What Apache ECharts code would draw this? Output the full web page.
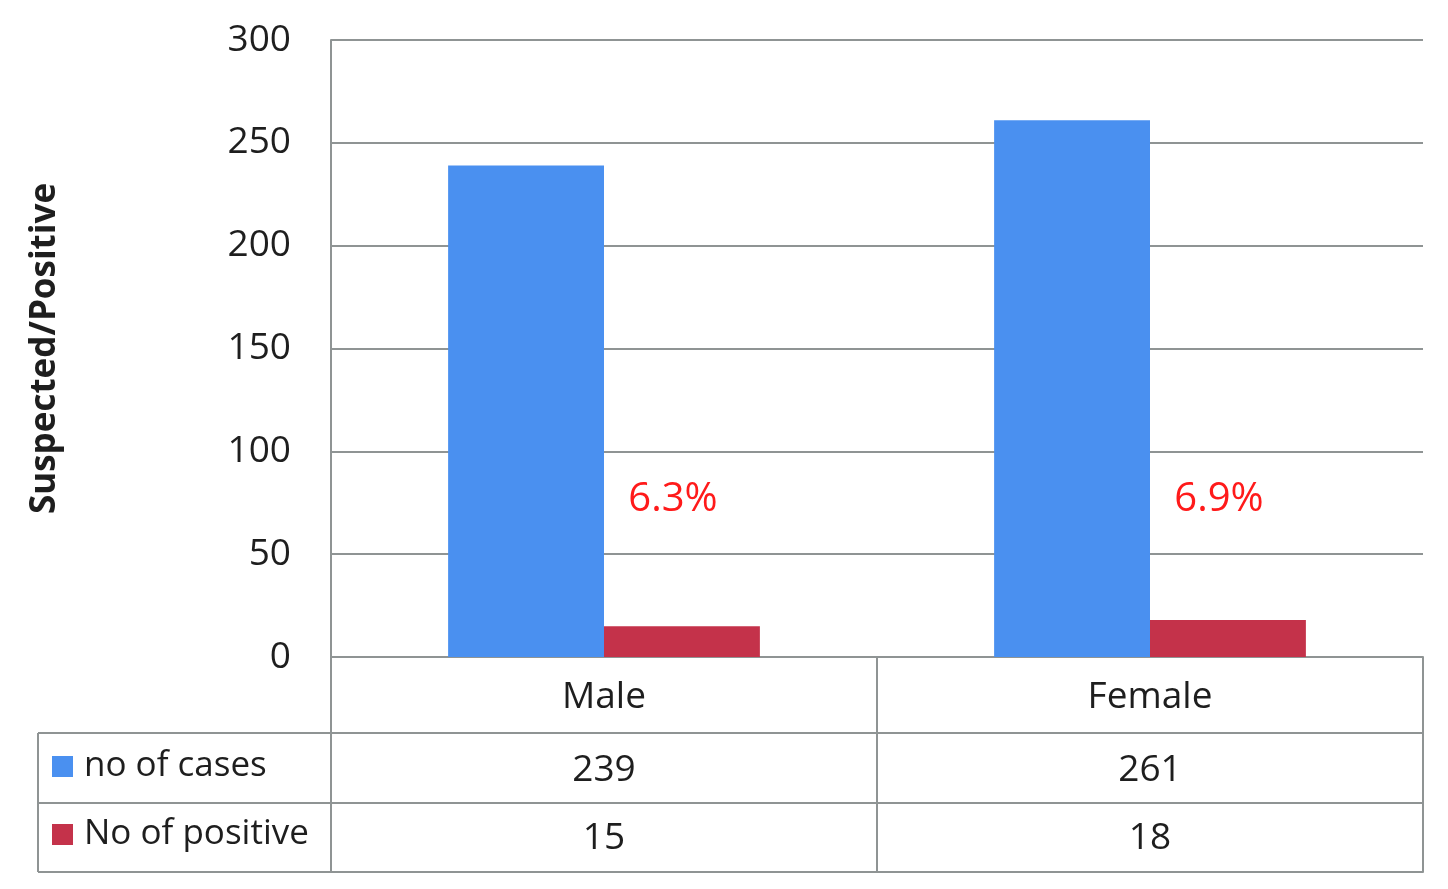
<!DOCTYPE html>
<html>
<head>
<meta charset="utf-8">
<script src="https://cdn.jsdelivr.net/npm/echarts@6/dist/echarts.min.js"></script>
<style>html,body{margin:0;padding:0;background:#fff;}#c{width:1448px;height:889px;}</style>
</head>
<body>
<div id="c"></div>
<script>
const categories = ['Male', 'Female'];
const casesValues = [239, 261];
const positiveValues = [15, 18];
const percentLabels = ['6.3%', '6.9%'];
const seriesNames = ['no of cases', 'No of positive'];
const yTicks = [0, 50, 100, 150, 200, 250, 300];

const FONT = '"Open Sans", sans-serif';
const TXT = '#1e1e1e';
const LINE = '#8f9494';
const BLUE = '#4a90f0';
const RED = '#c4324a';
const FS = 37;

const chart = echarts.init(document.getElementById('c'), null, {renderer: 'canvas'});

const tableAxis = (data, offset, tickLen, margin, showLabel) => ({
  type: 'category', gridIndex: 0, position: 'bottom', offset: offset,
  data: data,
  axisLine: {show: true, lineStyle: {color: LINE, width: 2}},
  axisTick: {show: tickLen > 0, length: tickLen, inside: false, lineStyle: {color: LINE, width: 2}},
  axisLabel: {show: showLabel, margin: margin, verticalAlign: 'middle', fontFamily: FONT, fontSize: FS, color: TXT},
  splitLine: {show: false}
});

const legendAt = (name, top) => ({
  data: [name], left: 52, top: top, padding: 0, orient: 'horizontal', itemWidth: 21, itemHeight: 21, icon: 'rect', itemGap: 0,
  textStyle: {fontFamily: FONT, fontSize: 35, color: TXT, padding: [0, 0, 0, 6]}, selectedMode: false
});

const option = {
  backgroundColor: '#fff',
  animation: false,
  grid: {left: 331, right: 25, top: 40, bottom: 232, containLabel: false},
  legend: [legendAt(seriesNames[0], 749), legendAt(seriesNames[1], 817)],
  xAxis: [
    tableAxis(categories, 0, 76, 40, true),
    tableAxis(casesValues.map(String), 76, 70, 37, true),
    tableAxis(positiveValues.map(String), 146, 69, 35, true),
    tableAxis(categories.map(() => ''), 215, 0, 0, false)
  ],
  yAxis: {
    type: 'value', min: yTicks[0], max: yTicks[yTicks.length - 1], interval: 50,
    name: 'Suspected/Positive', nameLocation: 'middle', nameGap: 268, nameRotate: 90,
    nameTextStyle: {fontFamily: FONT, fontSize: 35, fontWeight: 'bold', color: TXT},
    axisLine: {show: true, lineStyle: {color: LINE, width: 2}},
    axisTick: {show: false},
    axisLabel: {margin: 40, fontFamily: FONT, fontSize: FS, color: TXT},
    splitLine: {show: true, lineStyle: {color: LINE, width: 2}}
  },
  series: [
    {name: seriesNames[0], type: 'bar', xAxisIndex: 0, data: casesValues, barGap: '0%', barCategoryGap: '42.9%',
     itemStyle: {color: BLUE}},
    {name: seriesNames[1], type: 'bar', xAxisIndex: 0, data: positiveValues, barGap: '0%', barCategoryGap: '42.9%',
     itemStyle: {color: RED},
     markPoint: {
       symbol: 'rect', symbolSize: 1, itemStyle: {color: 'rgba(0,0,0,0)'},
       label: {show: true, position: 'inside', offset: [-9, 3], fontFamily: FONT, fontSize: 40, color: '#ff1a1a',
               formatter: p => p.name},
       data: categories.map((c, i) => ({name: percentLabels[i], coord: [c, 78]}))
     }}
  ],
  graphic: [
    {type: 'line', shape: {x1: 38, y1: 733, x2: 331, y2: 733}, style: {stroke: LINE, lineWidth: 2}},
    {type: 'line', shape: {x1: 38, y1: 803, x2: 331, y2: 803}, style: {stroke: LINE, lineWidth: 2}},
    {type: 'line', shape: {x1: 38, y1: 872, x2: 331, y2: 872}, style: {stroke: LINE, lineWidth: 2}},
    {type: 'line', shape: {x1: 38, y1: 733, x2: 38, y2: 872}, style: {stroke: LINE, lineWidth: 2}}
  ]
};
chart.setOption(option);
</script>
</body>
</html>
